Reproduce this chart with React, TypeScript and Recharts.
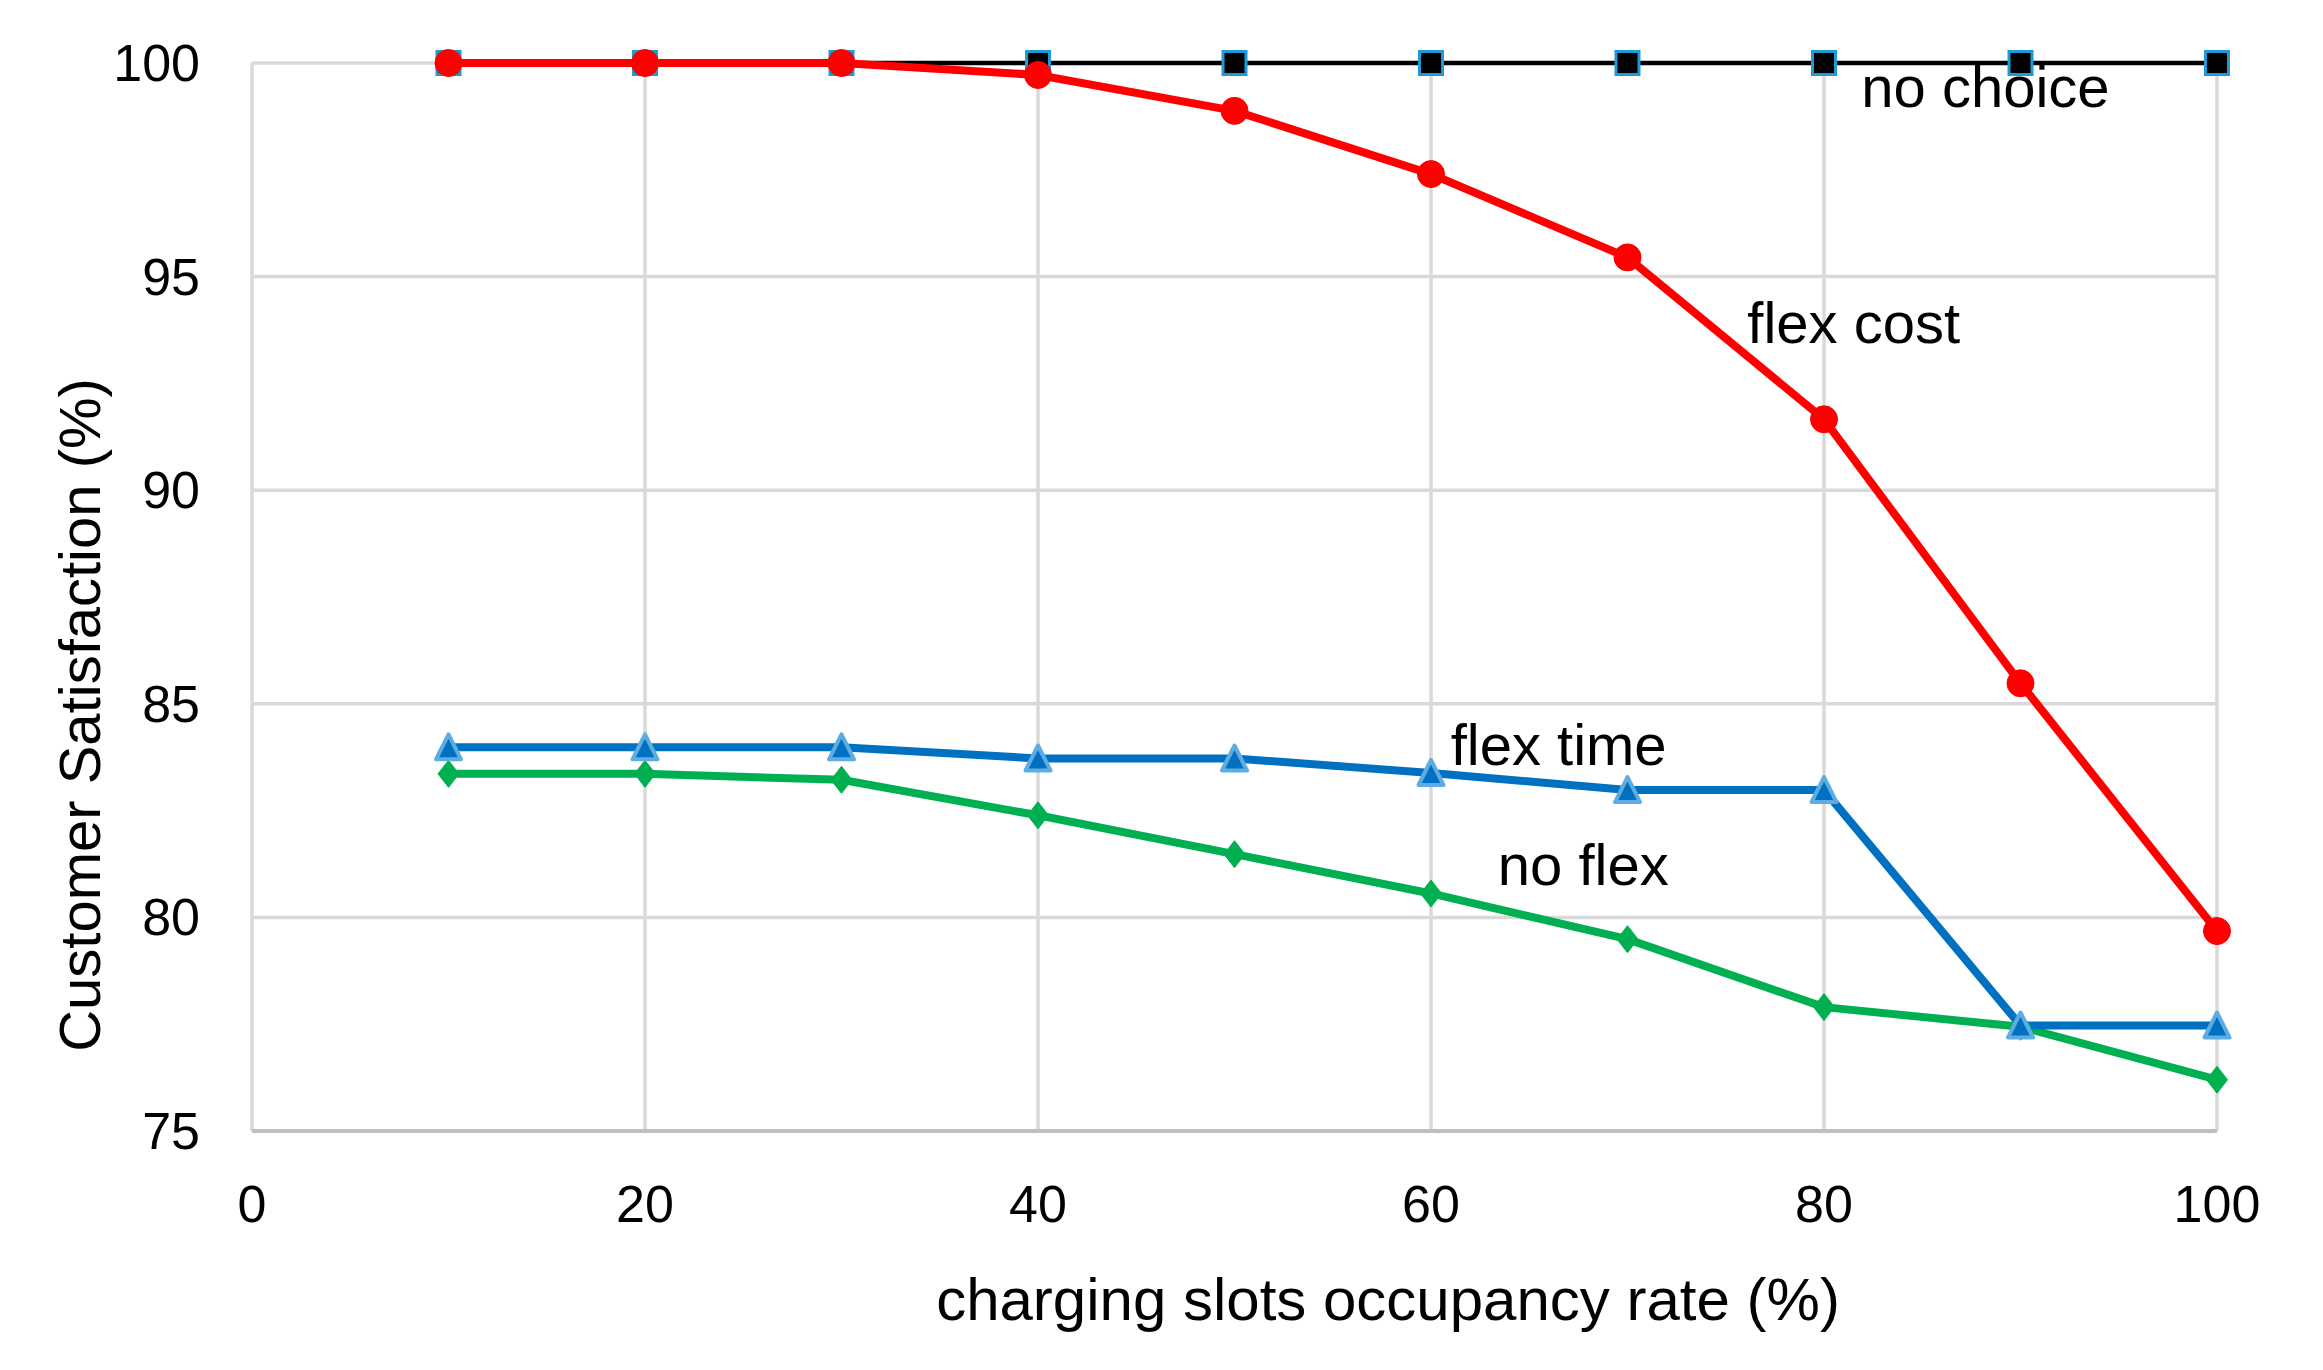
import React from "react";
import { LineChart, Line, XAxis, YAxis, CartesianGrid, ReferenceDot } from "recharts";

const occupancy = [10, 20, 30, 40, 50, 60, 70, 80, 90, 100];
const noChoice = [100, 100, 100, 100, 100, 100, 100, 100, 100, 100];
const flexCost = [100, 100, 100, 99.72, 98.88, 97.4, 95.45, 91.66, 85.48, 79.68];
const flexTime = [83.98, 83.98, 83.98, 83.72, 83.72, 83.38, 82.98, 82.98, 77.47, 77.47];
const noFlex = [83.36, 83.36, 83.22, 82.39, 81.48, 80.56, 79.49, 77.9, 77.44, 76.2];

const xTicks = [0, 20, 40, 60, 80, 100];
const yTicks = [75, 80, 85, 90, 95, 100];

// series names written inside the plot, anchored in data units (start of baseline)
const annotations = [
  { text: "no choice", x: 81.9, y: 98.98 },
  { text: "flex cost", x: 76.1, y: 93.45 },
  { text: "flex time", x: 61.0, y: 83.57 },
  { text: "no flex", x: 63.4, y: 80.76 },
];

const FONT = "'Liberation Sans', Arial, sans-serif";

const data = occupancy.map((x, i) => ({
  x,
  noChoice: noChoice[i],
  flexCost: flexCost[i],
  flexTime: flexTime[i],
  noFlex: noFlex[i],
}));

const XTick = (props: any) => {
  const { x, y, payload } = props;
  return (
    <text x={x} y={y + 91} textAnchor="middle" fontSize={52} fontFamily={FONT} fill="#000">
      {payload.value}
    </text>
  );
};

const YTick = (props: any) => {
  const { x, y, payload } = props;
  return (
    <text x={x - 52} y={y + 18} textAnchor="end" fontSize={52} fontFamily={FONT} fill="#000">
      {payload.value}
    </text>
  );
};

const squareDot = (p: any) => (
  <rect
    key={`sq-${p.index}`}
    x={p.cx - 11.5}
    y={p.cy - 11.5}
    width={23}
    height={23}
    fill="#000"
    stroke="#1E9AD8"
    strokeWidth={3}
  />
);

const triangleDot = (p: any) => (
  <path
    key={`tr-${p.index}`}
    d={`M${p.cx},${p.cy - 13}L${p.cx + 12.5},${p.cy + 12}L${p.cx - 12.5},${p.cy + 12}Z`}
    fill="#0070C0"
    stroke="#5DADE2"
    strokeWidth={4}
    strokeLinejoin="round"
  />
);

const diamondDot = (p: any) => (
  <path
    key={`dm-${p.index}`}
    d={`M${p.cx},${p.cy - 13.5}L${p.cx + 10.5},${p.cy}L${p.cx},${p.cy + 13.5}L${p.cx - 10.5},${p.cy}Z`}
    fill="#00B050"
    stroke="#00B050"
    strokeWidth={1}
  />
);

const App = () => {
  return (
    <div style={{ position: "absolute", left: 0, top: 0, width: 2323, height: 1370, background: "#fff" }}>
      <LineChart
        width={2323}
        height={1370}
        data={data}
        margin={{ top: 63, right: 106, left: 0, bottom: 0 }}
      >
        <CartesianGrid stroke="#D9D9D9" strokeWidth={3.5} />
        <XAxis
          dataKey="x"
          type="number"
          domain={[0, 100]}
          ticks={xTicks}
          height={239}
          tickSize={0}
          tickMargin={0}
          tickLine={false}
          axisLine={{ stroke: "#BFBFBF", strokeWidth: 4 }}
          tick={<XTick />}
          label={{
            content: () => (
              <text x={1388} y={1320} textAnchor="middle" fontSize={60} fontFamily={FONT} fill="#000">
                charging slots occupancy rate (%)
              </text>
            ),
          }}
        />
        <YAxis
          type="number"
          domain={[75, 100]}
          ticks={yTicks}
          width={252}
          tickSize={0}
          tickMargin={0}
          tickLine={false}
          axisLine={false}
          tick={<YTick />}
          label={{
            content: () => (
              <text
                x={100}
                y={715}
                textAnchor="middle"
                fontSize={58}
                fontFamily={FONT}
                fill="#000"
                transform="rotate(-90, 100, 715)"
              >
                Customer Satisfaction (%)
              </text>
            ),
          }}
        />
        <Line
          dataKey="noChoice"
          stroke="#000"
          strokeWidth={4.5}
          dot={squareDot}
          activeDot={false}
          isAnimationActive={false}
        />
        <Line
          dataKey="noFlex"
          stroke="#00B050"
          strokeWidth={8}
          dot={diamondDot}
          activeDot={false}
          isAnimationActive={false}
        />
        <Line
          dataKey="flexTime"
          stroke="#0070C0"
          strokeWidth={8}
          dot={triangleDot}
          activeDot={false}
          isAnimationActive={false}
        />
        <Line
          dataKey="flexCost"
          stroke="#FF0000"
          strokeWidth={8}
          dot={{ r: 13.5, fill: "#FF0000", stroke: "#FF0000", strokeWidth: 1 }}
          activeDot={false}
          isAnimationActive={false}
        />
        {annotations.map((a) => (
          <ReferenceDot
            key={a.text}
            x={a.x}
            y={a.y}
            ifOverflow="visible"
            shape={(p: any) => (
              <text x={p.cx} y={p.cy} textAnchor="start" fontSize={58} fontFamily={FONT} fill="#000">
                {a.text}
              </text>
            )}
          />
        ))}
      </LineChart>
    </div>
  );
};

export default App;
